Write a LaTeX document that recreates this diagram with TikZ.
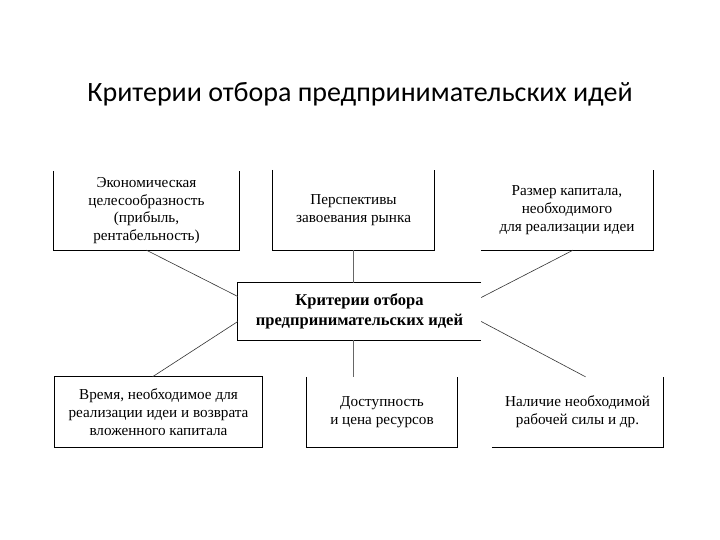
\documentclass[tikz,border=0pt]{standalone}
\usepackage{fontspec}
\setmainfont{Liberation Serif}
\newfontfamily\titlefont{Carlito}
\tikzset{
  crit/.style={align=center,inner sep=0pt,font=\fontsize{15.2}{17.8}\selectfont},
  frame/.style={line width=0.8pt},
  link/.style={line width=0.6pt,black!80},
  stem/.style={line width=1.2pt,black!60},
}
\begin{document}
\begin{tikzpicture}[x=1pt,y=-1pt]
    \useasboundingbox[fill=white] (0,0) rectangle (720,540);
    \node[font=\titlefont\fontsize{28}{32}\selectfont] (title) at (360,94) {Критерии отбора предпринимательских идей};
    % upper row
    \node[crit,minimum width=185,minimum height=79] (econ) at (146.5,210.5) {Экономическая\\целесообразность\\(прибыль,\\рентабельность)};
    \node[crit,minimum width=161,minimum height=80] (market) at (353.5,210) {Перспективы\\завоевания рынка};
    \node[crit,minimum width=172,minimum height=80] (capital) at (567,210) {Размер капитала,\\необходимого\\для реализации идеи};
    % centre
    \node[crit,font=\bfseries\fontsize{16.5}{19.5}\selectfont,minimum width=243,minimum height=57] (main) at (359.5,311.5) {Критерии отбора\\предпринимательских идей};
    % lower row
    \node[crit,minimum width=207,minimum height=70] (time) at (158.5,412) {Время, необходимое для\\реализации идеи и возврата\\вложенного капитала};
    \node[crit,minimum width=150,minimum height=70] (res) at (382,412) {Доступность\\и цена ресурсов};
    \node[crit,minimum width=171,minimum height=70] (labour) at (577.5,412) {Наличие необходимой\\рабочей силы и др.};
    % frames
    \draw[frame] (econ.north west) -- (econ.south west) -- (econ.south east) -- (econ.north east);
    \draw[frame] (market.north west) -- (market.south west) -- (market.south east) -- (market.north east);
    \draw[frame] (capital.south west) -- (capital.south east) -- (capital.north east);
    \draw[frame] (main.north east) -- (main.north west) -- (main.south west) -- (main.south east);
    \draw[frame] (time.north west) rectangle (time.south east);
    \draw[frame] (res.north west) -- (res.south west) -- (res.south east) -- (res.north east);
    \draw[frame] (labour.south west) -- (labour.south east) -- (labour.north east);
    % connectors
    \draw[link] (econ.south) -- ([yshift=15pt]main.west);
    \draw[link] ([yshift=-10pt]main.west) -- ([xshift=-6pt]time.north);
    \draw[link] ([xshift=6pt]capital.south) -- ([yshift=14pt]main.east);
    \draw[link] ([yshift=-10pt]main.east) -- ([xshift=8pt]labour.north);
    \draw[stem] (market.south) -- (market.south |- main.north);
    \draw[stem] (market.south |- main.south) -- (market.south |- res.north);
\end{tikzpicture}
\end{document}
